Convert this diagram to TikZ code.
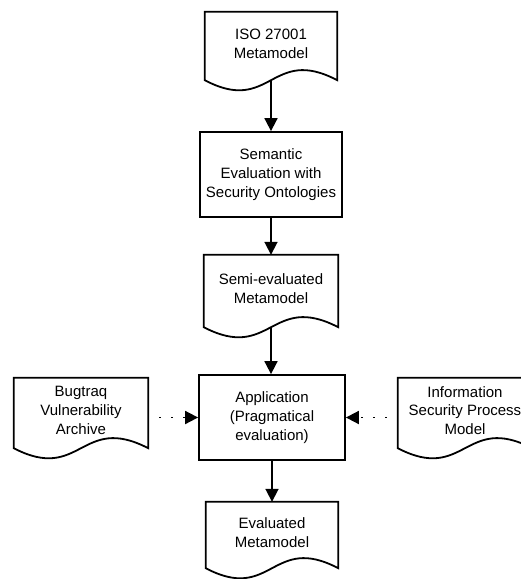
\documentclass[tikz,border=0pt]{standalone}
\usepackage{fontspec}
\setmainfont{Liberation Sans}
\usetikzlibrary{arrows.meta,calc}
\newcommand\docoutline[1]{%
  \draw[docline] (#1.south west) -- (#1.north west) -- (#1.north east) -- (#1.south east)
    .. controls ($(#1.south)+(0,-35)$) and ($(#1.south)+(0,35)$) .. (#1.south west) -- cycle;}
\begin{document}
\begin{tikzpicture}[x=1pt,y=-1pt,
  every node/.style={font=\fontsize{15}{18.8}\selectfont, align=center, inner sep=0pt},
  box/.style={draw, line width=1.8pt, rectangle},
  docnode/.style={rectangle, text depth=5pt},
  docline/.style={line width=1.8pt, line join=miter},
  flow/.style={line width=1.8pt, -{Triangle[length=13pt,width=13pt]}},
  dotflow/.style={line width=1.8pt, dash pattern=on 2pt off 10pt, shorten <=11pt,
     -{Triangle[length=13pt,width=13pt]}}]
\useasboundingbox (0,0) rectangle (521,579);
% documents
\node[docnode, minimum width=132pt, minimum height=68pt] (iso) at (271,46) {ISO 27001\\Metamodel};
\node[docnode, minimum width=134pt, minimum height=72pt] (semi) at (271,291) {Semi-evaluated\\Metamodel};
\node[docnode, minimum width=132pt, minimum height=66pt] (eval) at (272,535) {Evaluated\\Metamodel};
\node[docnode, minimum width=134pt, minimum height=70pt] (bug) at (81,413) {Bugtraq\\Vulnerability\\Archive};
\node[docnode, minimum width=134pt, minimum height=70pt] (info) at (465,413) {Information\\Security Process\\Model};
% processes
\node[box, minimum width=142pt, minimum height=85pt] (sem) at (271,174.5) {Semantic\\Evaluation with\\Security Ontologies};
\node[box, minimum width=146pt, minimum height=85pt] (app) at (272,417.5) {Application\\(Pragmatical\\evaluation)};
\docoutline{iso}
\docoutline{semi}
\docoutline{eval}
\docoutline{bug}
\docoutline{info}
% connectors
\draw[flow] (iso.south) -- (iso.south |- sem.north);
\draw[flow] (sem.south) -- (sem.south |- semi.north);
\draw[flow] (semi.south) -- (semi.south |- app.north);
\draw[flow] (app.south) -- (app.south |- eval.north);
\draw[dotflow] (bug.east |- app.west) -- (app.west);
\draw[dotflow] (info.west |- app.east) -- (app.east);
\end{tikzpicture}
\end{document}
